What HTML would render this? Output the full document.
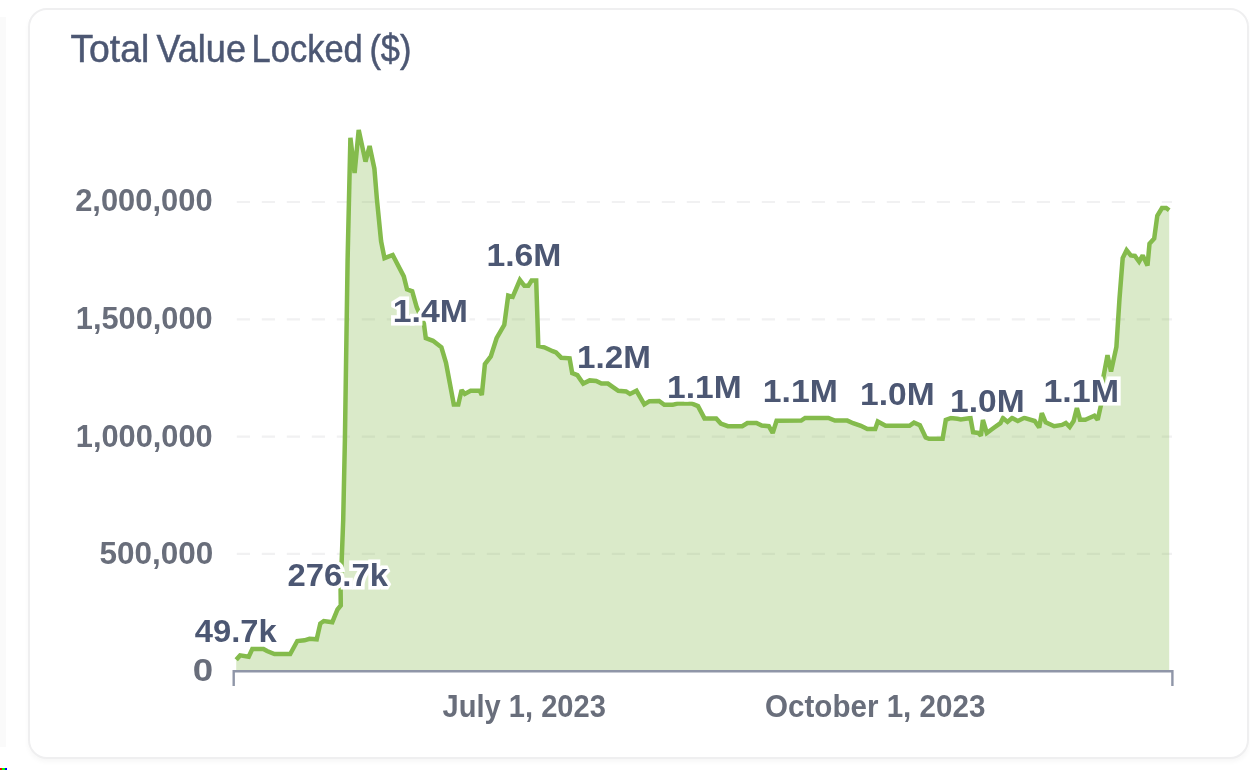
<!DOCTYPE html>
<html><head><meta charset="utf-8"><style>
html,body{margin:0;padding:0;background:#fff;width:1250px;height:770px;overflow:hidden}
body{position:relative;font-family:"Liberation Sans",sans-serif}
.card{position:absolute;left:28px;top:8px;width:1221px;height:751px;border:2px solid #EFEFF0;border-radius:19px;box-sizing:border-box;background:#fff;box-shadow:0 3px 5px rgba(0,0,0,0.035);filter:blur(0.6px)}
.strip{position:absolute;left:0;top:17px;width:6px;height:730px;background:#FAFAFA}
.px{position:absolute;top:768px;height:2px}
svg{position:absolute;left:0;top:0;filter:blur(0.55px)}
text{font-family:"Liberation Sans",sans-serif}
.dl{font-weight:bold;font-size:31px;fill:#4C5773}
.halo{stroke:#fff;stroke-width:7;stroke-linejoin:miter;stroke-miterlimit:2;fill:#fff}
.yl{font-weight:bold;font-size:31px;fill:#696E7B}
.ti{font-size:38.5px;fill:#4C5773;stroke:#4C5773;stroke-width:0.5}
</style></head><body>
<div class="strip"></div>
<div class="card"></div>
<div class="px" style="left:0;width:2px;background:#f00"></div><div class="px" style="left:2px;width:2.5px;background:#0f0"></div><div class="px" style="left:4.5px;width:2.5px;background:#00f"></div>
<svg width="1250" height="770" viewBox="0 0 1250 770">
<line x1="236.8" y1="202.0" x2="1172" y2="202.0" stroke="#F1F1F2" stroke-width="2.2" stroke-dasharray="13.2 11.8"/>
<line x1="236.8" y1="319.3" x2="1172" y2="319.3" stroke="#F1F1F2" stroke-width="2.2" stroke-dasharray="13.2 11.8"/>
<line x1="236.8" y1="436.6" x2="1172" y2="436.6" stroke="#F1F1F2" stroke-width="2.2" stroke-dasharray="13.2 11.8"/>
<line x1="236.8" y1="553.9" x2="1172" y2="553.9" stroke="#F1F1F2" stroke-width="2.2" stroke-dasharray="13.2 11.8"/>
<path d="M236.2,659.8 L240.1,655.4 L248.7,656.7 L252.3,649 L263.5,649 L267,651 L274.5,654 L290.2,654 L297.3,641 L304.5,640.3 L309.5,638.8 L316.7,639.3 L320.3,623.5 L323.8,621 L332.3,622.2 L337.5,609.5 L340.8,605.5 L340.6,590 L343.2,520 L344.9,440 L347.6,260 L350.4,137.7 L354.6,173 L358.7,129.9 L365.5,161.6 L369.6,146 L374.4,168.7 L376.9,199.1 L381.1,241.3 L384.5,258.2 L392.7,255 L403.8,276.4 L407,289.4 L412.2,291.3 L416.8,307.5 L423.9,323.5 L425.8,338.2 L433,340.8 L441.4,347.3 L446,362.9 L453.8,404.4 L458.3,404.4 L461.6,390.1 L464.8,394 L470.6,390.8 L479.7,390.8 L481.8,395 L484.9,364.2 L490.8,356.4 L496.6,338.2 L504.3,324.8 L508.2,295.6 L512.7,296.9 L519.9,280 L524.4,285.8 L528.3,285.8 L531.6,280.6 L536.2,280.6 L538.3,346 L544.3,347.3 L552.7,351.2 L556,352.5 L561.2,357.7 L569.6,358.3 L572.2,373.2 L577.4,375.2 L583.2,383.6 L589.7,380.4 L596.2,381 L601.4,383.6 L607.9,383.6 L618.3,390.8 L626.1,391.4 L630,394 L636.5,390.8 L644.3,404.4 L649.5,401.2 L659.1,400.9 L664.3,404.8 L672.7,404.8 L677.3,403.5 L691.6,403.5 L698,406.1 L704.5,418.4 L716.2,418.4 L720.8,423.6 L727.9,426.2 L742.2,426.2 L747.4,423 L756.5,423 L761.7,425.6 L768.8,426.2 L772.7,433 L776.6,420.8 L801.2,420.6 L805.1,418 L828.4,418 L834.9,420.6 L847.3,420.6 L853.1,423.2 L860.9,425.8 L867.4,429.1 L875.2,429.1 L877.8,421.5 L885.6,425.8 L909.5,425.8 L914,422.6 L919.9,425.2 L925.7,437.5 L929,438.8 L942.6,438.8 L945.8,420 L951,418 L957.5,418.7 L960.8,419.4 L970.5,418 L973.1,432.3 L978.3,433 L980.9,435.6 L982.9,420 L986.8,433 L993.9,427.8 L1000.4,423.2 L1003,418 L1007.5,421.9 L1012.1,418 L1017.8,421 L1024.3,417.8 L1034.7,421 L1039.2,427.5 L1041.8,413.2 L1045.7,422.3 L1054.2,426.2 L1062,424.9 L1065.8,423 L1069.7,426.9 L1073.6,421 L1076.9,408 L1080.1,419.7 L1085.3,419.7 L1094.4,415.8 L1097.7,419.7 L1101,404.9 L1102.8,380.3 L1107.5,355.1 L1111,371.5 L1116.4,347 L1119.5,298.5 L1122.7,258 L1126.6,250.2 L1130.8,255.4 L1134.9,255.9 L1139.1,261.7 L1142.7,255.4 L1147.5,265.6 L1149.5,243.8 L1154.2,238.6 L1157.3,215.8 L1162,208 L1166.2,208 L1169.2,210.2 L1169.2,671.2 L236.2,671.2 Z" fill="#84BB4C" fill-opacity="0.3"/>
<path d="M236.2,659.8 L240.1,655.4 L248.7,656.7 L252.3,649 L263.5,649 L267,651 L274.5,654 L290.2,654 L297.3,641 L304.5,640.3 L309.5,638.8 L316.7,639.3 L320.3,623.5 L323.8,621 L332.3,622.2 L337.5,609.5 L340.8,605.5 L340.6,590 L343.2,520 L344.9,440 L347.6,260 L350.4,137.7 L354.6,173 L358.7,129.9 L365.5,161.6 L369.6,146 L374.4,168.7 L376.9,199.1 L381.1,241.3 L384.5,258.2 L392.7,255 L403.8,276.4 L407,289.4 L412.2,291.3 L416.8,307.5 L423.9,323.5 L425.8,338.2 L433,340.8 L441.4,347.3 L446,362.9 L453.8,404.4 L458.3,404.4 L461.6,390.1 L464.8,394 L470.6,390.8 L479.7,390.8 L481.8,395 L484.9,364.2 L490.8,356.4 L496.6,338.2 L504.3,324.8 L508.2,295.6 L512.7,296.9 L519.9,280 L524.4,285.8 L528.3,285.8 L531.6,280.6 L536.2,280.6 L538.3,346 L544.3,347.3 L552.7,351.2 L556,352.5 L561.2,357.7 L569.6,358.3 L572.2,373.2 L577.4,375.2 L583.2,383.6 L589.7,380.4 L596.2,381 L601.4,383.6 L607.9,383.6 L618.3,390.8 L626.1,391.4 L630,394 L636.5,390.8 L644.3,404.4 L649.5,401.2 L659.1,400.9 L664.3,404.8 L672.7,404.8 L677.3,403.5 L691.6,403.5 L698,406.1 L704.5,418.4 L716.2,418.4 L720.8,423.6 L727.9,426.2 L742.2,426.2 L747.4,423 L756.5,423 L761.7,425.6 L768.8,426.2 L772.7,433 L776.6,420.8 L801.2,420.6 L805.1,418 L828.4,418 L834.9,420.6 L847.3,420.6 L853.1,423.2 L860.9,425.8 L867.4,429.1 L875.2,429.1 L877.8,421.5 L885.6,425.8 L909.5,425.8 L914,422.6 L919.9,425.2 L925.7,437.5 L929,438.8 L942.6,438.8 L945.8,420 L951,418 L957.5,418.7 L960.8,419.4 L970.5,418 L973.1,432.3 L978.3,433 L980.9,435.6 L982.9,420 L986.8,433 L993.9,427.8 L1000.4,423.2 L1003,418 L1007.5,421.9 L1012.1,418 L1017.8,421 L1024.3,417.8 L1034.7,421 L1039.2,427.5 L1041.8,413.2 L1045.7,422.3 L1054.2,426.2 L1062,424.9 L1065.8,423 L1069.7,426.9 L1073.6,421 L1076.9,408 L1080.1,419.7 L1085.3,419.7 L1094.4,415.8 L1097.7,419.7 L1101,404.9 L1102.8,380.3 L1107.5,355.1 L1111,371.5 L1116.4,347 L1119.5,298.5 L1122.7,258 L1126.6,250.2 L1130.8,255.4 L1134.9,255.9 L1139.1,261.7 L1142.7,255.4 L1147.5,265.6 L1149.5,243.8 L1154.2,238.6 L1157.3,215.8 L1162,208 L1166.2,208 L1169.2,210.2" fill="none" stroke="#84BB4C" stroke-width="4.5" stroke-linejoin="miter" stroke-miterlimit="2"/>
<path d="M233.7,686.1 V671.2 H1172.4 V686.1" fill="none" stroke="#8F96A8" stroke-width="2.4"/>
<text x="70.40" y="61.60" textLength="78.80" lengthAdjust="spacingAndGlyphs" class="ti">Total</text>
<text x="156.40" y="61.60" textLength="89.60" lengthAdjust="spacingAndGlyphs" class="ti">Value</text>
<text x="251.60" y="61.60" textLength="111.20" lengthAdjust="spacingAndGlyphs" class="ti">Locked</text>
<text x="369.40" y="61.60" textLength="42.00" lengthAdjust="spacingAndGlyphs" class="ti">($)</text>
<text x="194.80" y="641.80" textLength="82.00" lengthAdjust="spacingAndGlyphs" class="dl halo">49.7k</text>
<text x="194.80" y="641.80" textLength="82.00" lengthAdjust="spacingAndGlyphs" class="dl">49.7k</text>
<text x="287.60" y="585.80" textLength="100.40" lengthAdjust="spacingAndGlyphs" class="dl halo">276.7k</text>
<text x="287.60" y="585.80" textLength="100.40" lengthAdjust="spacingAndGlyphs" class="dl">276.7k</text>
<text x="392.80" y="322.00" textLength="75.20" lengthAdjust="spacingAndGlyphs" class="dl halo">1.4M</text>
<text x="392.80" y="322.00" textLength="75.20" lengthAdjust="spacingAndGlyphs" class="dl">1.4M</text>
<text x="486.40" y="265.60" textLength="75.00" lengthAdjust="spacingAndGlyphs" class="dl halo">1.6M</text>
<text x="486.40" y="265.60" textLength="75.00" lengthAdjust="spacingAndGlyphs" class="dl">1.6M</text>
<text x="577.00" y="367.80" textLength="73.80" lengthAdjust="spacingAndGlyphs" class="dl halo">1.2M</text>
<text x="577.00" y="367.80" textLength="73.80" lengthAdjust="spacingAndGlyphs" class="dl">1.2M</text>
<text x="667.00" y="397.80" textLength="74.60" lengthAdjust="spacingAndGlyphs" class="dl halo">1.1M</text>
<text x="667.00" y="397.80" textLength="74.60" lengthAdjust="spacingAndGlyphs" class="dl">1.1M</text>
<text x="762.80" y="401.80" textLength="75.00" lengthAdjust="spacingAndGlyphs" class="dl halo">1.1M</text>
<text x="762.80" y="401.80" textLength="75.00" lengthAdjust="spacingAndGlyphs" class="dl">1.1M</text>
<text x="860.00" y="405.20" textLength="74.60" lengthAdjust="spacingAndGlyphs" class="dl halo">1.0M</text>
<text x="860.00" y="405.20" textLength="74.60" lengthAdjust="spacingAndGlyphs" class="dl">1.0M</text>
<text x="950.00" y="412.20" textLength="74.60" lengthAdjust="spacingAndGlyphs" class="dl halo">1.0M</text>
<text x="950.00" y="412.20" textLength="74.60" lengthAdjust="spacingAndGlyphs" class="dl">1.0M</text>
<text x="1043.40" y="402.20" textLength="75.60" lengthAdjust="spacingAndGlyphs" class="dl halo">1.1M</text>
<text x="1043.40" y="402.20" textLength="75.60" lengthAdjust="spacingAndGlyphs" class="dl">1.1M</text>
<text x="75.20" y="211.00" textLength="137.40" lengthAdjust="spacingAndGlyphs" class="yl">2,000,000</text>
<text x="75.80" y="329.00" textLength="136.80" lengthAdjust="spacingAndGlyphs" class="yl">1,500,000</text>
<text x="75.80" y="447.00" textLength="136.80" lengthAdjust="spacingAndGlyphs" class="yl">1,000,000</text>
<text x="99.40" y="564.20" textLength="113.80" lengthAdjust="spacingAndGlyphs" class="yl">500,000</text>
<text x="192.80" y="680.60" textLength="20.40" lengthAdjust="spacingAndGlyphs" class="yl">0</text>
<text x="442.60" y="716.60" textLength="163.20" lengthAdjust="spacingAndGlyphs" class="yl">July 1, 2023</text>
<text x="765.00" y="716.90" textLength="220.40" lengthAdjust="spacingAndGlyphs" class="yl">October 1, 2023</text>
</svg>
</body></html>
